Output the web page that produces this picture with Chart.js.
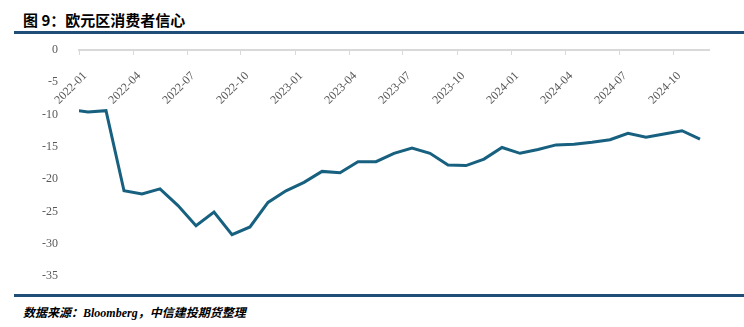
<!DOCTYPE html>
<html>
<head>
<meta charset="utf-8">
<script src="https://cdn.jsdelivr.net/npm/chart.js@4/dist/chart.umd.min.js"></script>
<style>
  body { margin: 0; width: 744px; height: 327px; background: #fff; position: relative; overflow: hidden; }
  #title { position: absolute; left: 23px; top: 9px; font: bold 15px "Noto Sans CJK SC", sans-serif; color: #000; }
  .rule { position: absolute; left: 14px; right: 0; height: 3px; background: #1f4e79; }
  #source { position: absolute; left: 23px; top: 303px; font: italic bold 12px "Liberation Serif", "Noto Sans CJK SC", serif; color: #000; }
  #wrap { position: absolute; left: 0; top: 0; width: 744px; height: 327px; }
</style>
</head>
<body>
<div id="title">图 9：欧元区消费者信心</div>
<div class="rule" style="top:31px"></div>
<div class="rule" style="top:294px"></div>
<div id="source">数据来源：Bloomberg，中信建投期货整理</div>
<div id="wrap"><canvas id="c"></canvas></div>
<script>
// 月份（数据点）
const months = [
  '2021-12', '2022-01', '2022-02', '2022-03', '2022-04', '2022-05', '2022-06',
  '2022-07', '2022-08', '2022-09', '2022-10', '2022-11', '2022-12',
  '2023-01', '2023-02', '2023-03', '2023-04', '2023-05', '2023-06',
  '2023-07', '2023-08', '2023-09', '2023-10', '2023-11', '2023-12',
  '2024-01', '2024-02', '2024-03', '2024-04', '2024-05', '2024-06',
  '2024-07', '2024-08', '2024-09', '2024-10', '2024-11'
];
// 欧元区消费者信心
const confidence = [
  -9.2, -9.6, -9.4, -21.8, -22.3, -21.5, -24.1,
  -27.2, -25.1, -28.6, -27.4, -23.6, -21.8,
  -20.5, -18.8, -19.0, -17.3, -17.3, -16.0,
  -15.2, -16.0, -17.8, -17.9, -16.9, -15.1,
  -16.0, -15.4, -14.7, -14.6, -14.3, -13.9,
  -12.9, -13.5, -13.0, -12.5, -13.8
];
// 横轴刻度标签（季度）
const quarterLabels = [
  '2022-01', '2022-04', '2022-07', '2022-10',
  '2023-01', '2023-04', '2023-07', '2023-10',
  '2024-01', '2024-04', '2024-07', '2024-10'
];
const yTicks = [0, -5, -10, -15, -20, -25, -30, -35];

// 月份 -> 横轴位置（以 2022-01 为 0，数据点放在月中）
const monthPos = m => {
  const [y, mo] = m.split('-').map(Number);
  return (y - 2022) * 12 + (mo - 1) + 0.5;
};
const points = months.map((m, i) => ({ x: monthPos(m), y: confidence[i] }));

const serif = '"Liberation Serif", "Times New Roman", serif';

new Chart(document.getElementById('c'), {
  type: 'line',
  data: {
    datasets: [{
      data: points,
      borderColor: '#17607f',
      borderWidth: 3,
      pointRadius: 0,
      tension: 0,
      clip: 0
    }]
  },
  options: {
    responsive: true,
    maintainAspectRatio: false,
    animation: false,
    layout: { padding: { left: 29, right: 35, top: 50, bottom: 51 } },
    plugins: { legend: { display: false }, tooltip: { enabled: false } },
    scales: {
      x: {
        type: 'linear',
        position: { y: 0 },
        min: 0,
        max: 35,
        grid: { display: true, drawOnChartArea: false, drawTicks: true, tickLength: 4, color: '#d9d9d9' },
        border: { display: true, color: '#d9d9d9', width: 2 },
        ticks: {
          stepSize: 3,
          includeBounds: false,
          autoSkip: false,
          minRotation: 45,
          maxRotation: 45,
          padding: 15,
          labelOffset: 6,
          color: '#595959',
          font: { family: serif, size: 12 },
          callback: v => quarterLabels[v / 3] ?? ''
        }
      },
      y: {
        min: yTicks[yTicks.length - 1],
        max: yTicks[0],
        grid: { display: false },
        border: { display: false },
        afterFit: s => { s.width = 50; },
        ticks: {
          stepSize: 5,
          padding: 13,
          color: '#595959',
          font: { family: serif, size: 12 },
          callback: v => String(v)
        }
      }
    }
  }
});
</script>
</body>
</html>
